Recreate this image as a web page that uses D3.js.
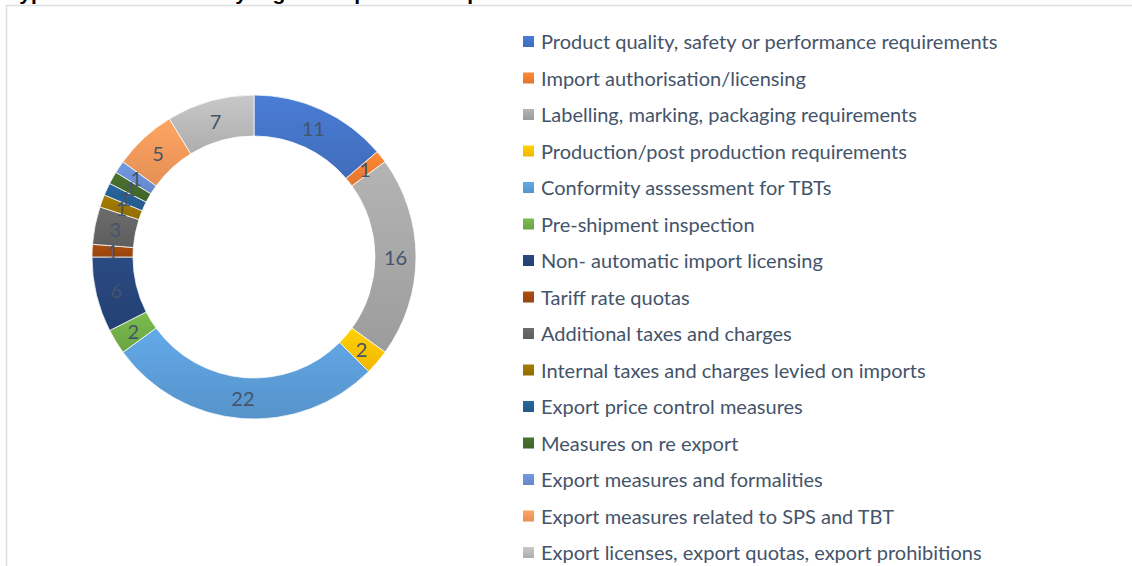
<!DOCTYPE html>
<html><head><meta charset="utf-8">
<script src="https://cdn.jsdelivr.net/npm/d3@7"></script>
<style>body{margin:0;background:#fff;}svg{display:block;}</style>
</head><body>
<svg id="c" width="1132" height="566"></svg>
<script>
const categories = [
  "Product quality, safety or performance requirements",
  "Import authorisation/licensing",
  "Labelling, marking, packaging requirements",
  "Production/post production requirements",
  "Conformity asssessment for TBTs",
  "Pre-shipment inspection",
  "Non- automatic  import licensing",
  "Tariff rate quotas",
  "Additional taxes and charges",
  "Internal taxes and charges levied on imports",
  "Export price control measures",
  "Measures on re export",
  "Export measures and formalities",
  "Export measures related to SPS and TBT",
  "Export licenses, export quotas, export prohibitions"
];
const values = [11, 1, 16, 2, 22, 2, 6, 1, 3, 1, 1, 1, 1, 5, 7];
const colors = ["#4472C4","#ED7D31","#A5A5A5","#FFC000","#5B9BD5","#70AD47","#264478","#9E480E","#636363","#997300","#255E91","#43682B","#698ED0","#F1975A","#B7B7B7"];
const title = "Types of NTMs faced by region: import and export measures";

const svg = d3.select("#c");
const font = "Lato, 'Open Sans', sans-serif";

// chart frame
svg.append("rect").attr("x", 6.5).attr("y", 5.5).attr("width", 1300).attr("height", 700)
  .attr("fill", "#fff").attr("stroke", "#D9DEE4").attr("stroke-width", 1.5);

// title (cut off at top, as in the reference)
svg.append("text").attr("x", 8).attr("y", 0).text(title)
  .attr("font-family", "'Liberation Sans', Arial, sans-serif").attr("font-weight", "bold")
  .attr("font-size", 21).attr("fill", "#000");

const defs = svg.append("defs");
colors.forEach((c, i) => {
  const g = defs.append("linearGradient").attr("id", "g" + i)
    .attr("x1", 0).attr("y1", 0).attr("x2", 0).attr("y2", 1);
  g.append("stop").attr("offset", "0%").attr("stop-color", d3.color(c).brighter(0.25));
  g.append("stop").attr("offset", "100%").attr("stop-color", d3.color(c).darker(0.15));
});

const cx = 254, cy = 257, R = 162, r = 121;
const pie = d3.pie().sort(null).value(d => d)(values);
const arc = d3.arc().innerRadius(r).outerRadius(R);
const g = svg.append("g").attr("transform", `translate(${cx},${cy})`);
g.selectAll("path").data(pie).join("path")
  .attr("d", arc)
  .attr("fill", (d, i) => `url(#g${i})`)
  .attr("stroke", "#fff").attr("stroke-width", 0.75);
g.selectAll("text").data(pie).join("text")
  .attr("transform", d => `translate(${arc.centroid(d)})`)
  .attr("text-anchor", "middle").attr("dominant-baseline", "central")
  .attr("font-family", font).attr("font-size", 20).attr("fill", "#44546A")
  .text(d => d.data);

// legend
const ly = d3.scalePoint().domain(categories).range([41, 552]);
const lg = svg.append("g");
const item = lg.selectAll("g").data(categories).join("g")
  .attr("transform", d => `translate(523,${ly(d)})`);
item.append("rect").attr("x", 0).attr("y", -5).attr("width", 11).attr("height", 11)
  .attr("fill", (d, i) => `url(#g${i})`);
item.append("text").attr("x", 18).attr("y", 0).attr("dominant-baseline", "central")
  .attr("font-family", font).attr("font-size", 20).attr("fill", "#44546A")
  .text(d => d);
</script>
</body></html>
